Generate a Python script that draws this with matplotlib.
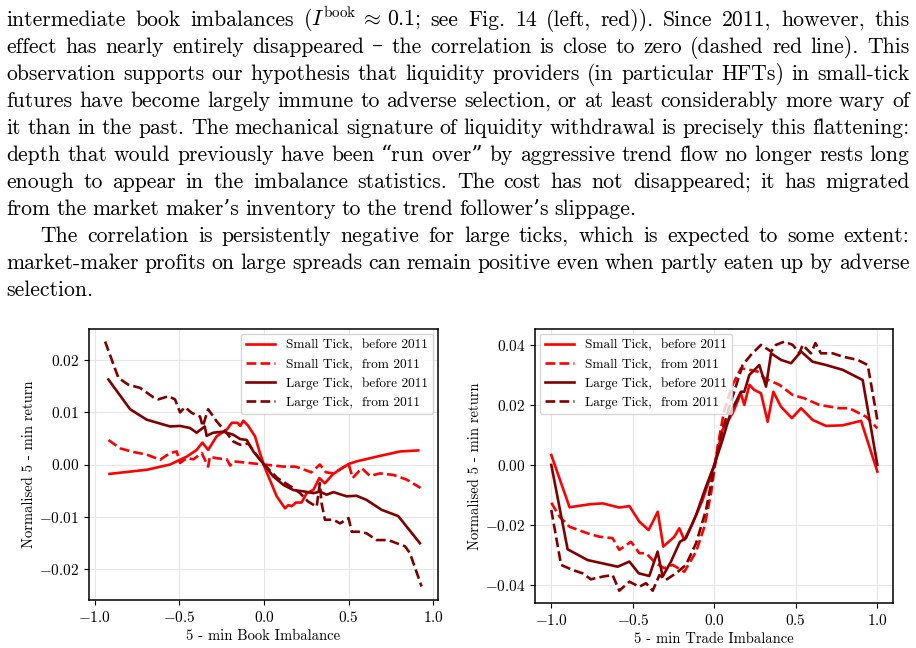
import re
import matplotlib
matplotlib.use("Agg")
import matplotlib.pyplot as plt

plt.rcParams["font.family"] = ["cmr10", "DejaVu Serif"]
plt.rcParams["mathtext.fontset"] = "cm"
plt.rcParams["axes.formatter.use_mathtext"] = True
plt.rcParams["axes.unicode_minus"] = True

# ---- paragraph text above the figure
para_lines = [
    r"intermediate book imbalances ($I^{\rm book} \,\approx\, 0.1$; see Fig. 14 (left, red)).  Since 2011, however, this",
    "effect has nearly entirely disappeared \u2013 the correlation is close to zero (dashed red line).  This",
    "observation supports our hypothesis that liquidity providers (in particular HFTs) in small-tick",
    "futures have become largely immune to adverse selection, or at least considerably more wary of",
    "it than in the past.  The mechanical signature of liquidity withdrawal is precisely this flattening:",
    "depth that would previously have been \u201crun over\u201d by aggressive trend flow no longer rests long",
    "enough to appear in the imbalance statistics.  The cost has not disappeared; it has migrated",
    "from the market maker\u2019s inventory to the trend follower\u2019s slippage.",
    "The correlation is persistently negative for large ticks, which is expected to some extent:",
    "market-maker profits on large spreads can remain positive even when partly eaten up by adverse",
    "selection.",
]
para_justify = [True, True, True, True, True, True, True, False, True, True, False]
para_indent = [0, 0, 0, 0, 0, 0, 0, 0, 1, 0, 0]

# ---- left panel: book imbalance
book_st_pre_x = [-0.913, -0.69, -0.555, -0.457, -0.398, -0.364, -0.33, -0.28, -0.22, -0.19, -0.157, -0.14,
                 -0.122, -0.093, -0.053, -0.024, 0.006, 0.075, 0.124, 0.144, 0.163, 0.189, 0.222, 0.252,
                 0.291, 0.327, 0.36, 0.409, 0.5, 0.547, 0.665, 0.803, 0.911]
book_st_pre_y = [-0.0018, -0.001, 0.0, 0.0015, 0.0028, 0.0042, 0.0028, 0.0054, 0.0067, 0.008, 0.008, 0.0074,
                 0.0084, 0.0074, 0.0054, 0.0022, -0.0007, -0.0061, -0.0084, -0.0078, -0.008, -0.0073, -0.0073,
                 -0.0055, -0.0049, -0.0026, -0.0036, -0.0018, 0.0001, 0.0006, 0.0015, 0.0025, 0.0027]

book_st_post_x = [-0.919, -0.85, -0.772, -0.693, -0.614, -0.555, -0.516, -0.496, -0.457, -0.417, -0.368, -0.33,
                  -0.32, -0.28, -0.22, -0.2, -0.18, -0.122, 0.0, 0.114, 0.183, 0.213, 0.28, 0.33, 0.366, 0.41,
                  0.5, 0.524, 0.577, 0.626, 0.685, 0.764, 0.843, 0.925]
book_st_post_y = [0.0047, 0.0031, 0.0024, 0.0019, 0.0009, 0.0022, 0.0025, 0.0003, 0.0012, 0.001, 0.0022, -0.0004,
                  0.0015, 0.0012, 0.001, -0.0002, 0.0006, 0.0004, 0.0, -0.0004, -0.0004, -0.0007, -0.0015, 0.0,
                  -0.0015, -0.0017, 0.0001, -0.0026, -0.0007, -0.0022, -0.0017, -0.002, -0.0029, -0.0045]

book_lt_pre_x = [-0.919, -0.791, -0.693, -0.555, -0.496, -0.437, -0.398, -0.35, -0.339, -0.3, -0.24, -0.181,
                 -0.142, -0.102, -0.063, 0.0, 0.055, 0.114, 0.173, 0.242, 0.291, 0.33, 0.37, 0.41, 0.488,
                 0.547, 0.606, 0.695, 0.793, 0.921]
book_lt_pre_y = [0.0163, 0.0106, 0.0086, 0.0073, 0.0074, 0.007, 0.0061, 0.0073, 0.0055, 0.0061, 0.0063, 0.0057,
                 0.0049, 0.0047, 0.0025, 0.0, -0.0023, -0.0039, -0.0049, -0.0052, -0.0055, -0.0052, -0.0058,
                 -0.0053, -0.0061, -0.006, -0.0068, -0.0087, -0.0099, -0.0151]

book_lt_post_x = [-0.939, -0.86, -0.801, -0.732, -0.654, -0.624, -0.565, -0.526, -0.496, -0.467, -0.427, -0.378,
                  -0.362, -0.33, -0.28, -0.22, -0.181, -0.142, -0.093, -0.053, 0.0, 0.079, 0.157, 0.213, 0.26,
                  0.311, 0.33, 0.34, 0.36, 0.41, 0.449, 0.5, 0.518, 0.557, 0.606, 0.665, 0.734, 0.833, 0.862,
                  0.931]
book_lt_post_y = [0.0236, 0.0166, 0.0153, 0.0147, 0.0129, 0.0125, 0.0131, 0.0125, 0.01, 0.011, 0.0099, 0.0092,
                  0.0073, 0.0106, 0.0083, 0.006, 0.0044, 0.0038, 0.004, 0.0022, 0.0, -0.0026, -0.0042, -0.0055,
                  -0.0071, -0.0081, -0.0036, -0.0074, -0.0106, -0.0106, -0.0113, -0.0103, -0.0129, -0.0129,
                  -0.0132, -0.0145, -0.0145, -0.0157, -0.017, -0.0234]

# ---- right panel: trade imbalance
trade_st_pre_x = [-1.0, -0.888, -0.765, -0.685, -0.583, -0.521, -0.46, -0.403, -0.347, -0.313, -0.245, -0.215,
                  -0.184, -0.133, -0.072, 0.0, 0.05, 0.112, 0.163, 0.184, 0.215, 0.245, 0.286, 0.327, 0.362,
                  0.409, 0.476, 0.532, 0.603, 0.685, 0.787, 0.9, 1.0]
trade_st_pre_y = [0.0033, -0.0141, -0.0131, -0.0128, -0.0142, -0.0137, -0.0189, -0.0217, -0.0156, -0.0272,
                  -0.0239, -0.0211, -0.025, -0.0194, -0.0117, 0.0, 0.0117, 0.0172, 0.0239, 0.02, 0.0267, 0.025,
                  0.0239, 0.0144, 0.0244, 0.0194, 0.0156, 0.0189, 0.015, 0.013, 0.0132, 0.0147, -0.0022]

trade_st_post_x = [-1.0, -0.95, -0.888, -0.777, -0.706, -0.624, -0.583, -0.511, -0.46, -0.419, -0.358, -0.307,
                   -0.256, -0.184, -0.112, -0.061, -0.02, 0.02, 0.061, 0.112, 0.163, 0.215, 0.266, 0.307, 0.399,
                   0.481, 0.552, 0.644, 0.767, 0.828, 0.93, 1.0]
trade_st_post_y = [-0.0126, -0.0172, -0.0206, -0.0228, -0.0239, -0.0244, -0.0283, -0.0256, -0.0294, -0.0294,
                   -0.0328, -0.0344, -0.0333, -0.0356, -0.0289, -0.0206, -0.0094, 0.0061, 0.0183, 0.0267, 0.0322,
                   0.0317, 0.0311, 0.0289, 0.0267, 0.0233, 0.0222, 0.02, 0.0189, 0.0189, 0.0161, 0.0122]

trade_lt_pre_x = [-1.0, -0.9, -0.777, -0.685, -0.593, -0.521, -0.464, -0.399, -0.348, -0.317, -0.266, -0.211,
                  -0.174, -0.112, -0.051, 0.0, 0.05, 0.102, 0.133, 0.163, 0.184, 0.215, 0.276, 0.317, 0.348,
                  0.409, 0.471, 0.532, 0.603, 0.685, 0.787, 0.91, 1.0]
trade_lt_pre_y = [0.0, -0.0281, -0.0317, -0.0328, -0.0339, -0.0322, -0.0361, -0.037, -0.0289, -0.0372, -0.0322,
                  -0.0256, -0.0244, -0.0167, -0.0072, 0.0, 0.0083, 0.0178, 0.0211, 0.0244, 0.0244, 0.03, 0.0333,
                  0.0261, 0.0372, 0.035, 0.0339, 0.0378, 0.0344, 0.0333, 0.0317, 0.0283, 0.0]

trade_lt_post_x = [-1.0, -0.94, -0.869, -0.808, -0.757, -0.685, -0.624, -0.583, -0.521, -0.46, -0.419, -0.378,
                   -0.337, -0.297, -0.235, -0.174, -0.112, -0.051, 0.0, 0.05, 0.102, 0.174, 0.225, 0.286, 0.348,
                   0.378, 0.43, 0.481, 0.522, 0.542, 0.593, 0.62, 0.654, 0.726, 0.787, 0.879, 0.941, 1.0]
trade_lt_post_y = [-0.015, -0.0333, -0.035, -0.0361, -0.0381, -0.0372, -0.0367, -0.0419, -0.0389, -0.0406,
                   -0.0394, -0.0419, -0.0367, -0.0383, -0.0361, -0.0333, -0.0261, -0.015, -0.0006, 0.0117, 0.0211,
                   0.0333, 0.0367, 0.04, 0.0378, 0.04, 0.0411, 0.04, 0.0372, 0.04, 0.0372, 0.0406, 0.0372, 0.0372,
                   0.0361, 0.035, 0.0333, 0.015]

labels = ["Small Tick,  before 2011", "Small Tick,  from 2011",
          "Large Tick,  before 2011", "Large Tick,  from 2011"]

RED = "#ff0000"
DARK = "#800000"
W, H = 916, 648


def draw_paragraph(fig):
    renderer = fig.canvas.get_renderer()
    left, right = 6.5, 909.5
    base0, step = 26.0, 27.0
    for i, line in enumerate(para_lines):
        words = re.findall(r"\S*\$[^$]*\$\S*|\S+", line)
        x0 = left + 34.0 * para_indent[i]
        y = 1 - (base0 + step * i) / H
        texts, widths = [], []
        for w in words:
            t = fig.text(0, y, w, fontsize=15.6, va="baseline", ha="left")
            texts.append(t)
            widths.append(t.get_window_extent(renderer).width)
        if para_justify[i] and len(words) > 1:
            gap = (right - x0 - sum(widths)) / (len(words) - 1)
        else:
            gap = 5.8
        x = x0
        for t, wd in zip(texts, widths):
            t.set_x(x / W)
            x += wd + gap


def style_axes(ax, xlabel):
    ax.grid(True, color="#e6e6e6", linewidth=0.8)
    ax.set_axisbelow(True)
    for s in ax.spines.values():
        s.set_linewidth(1.1)
    ax.tick_params(labelsize=11, length=3.5, width=0.8)
    ax.set_xlabel(xlabel, fontsize=10.5, labelpad=3)
    ax.set_ylabel("Normalised 5 - min return", fontsize=10.5, labelpad=2)


def main():
    fig = plt.figure(figsize=(W / 100, H / 100), dpi=100)
    draw_paragraph(fig)

    ax1 = fig.add_axes([89 / W, 1 - 600 / H, 349 / W, 271 / H])
    ax1.plot(book_st_pre_x, book_st_pre_y, color=RED, lw=1.9, label=labels[0])
    ax1.plot(book_st_post_x, book_st_post_y, color=RED, lw=1.9, ls="--", label=labels[1])
    ax1.plot(book_lt_pre_x, book_lt_pre_y, color=DARK, lw=1.9, label=labels[2])
    ax1.plot(book_lt_post_x, book_lt_post_y, color=DARK, lw=1.9, ls="--", label=labels[3])
    ax1.set_xlim(-1.034, 1.028)
    ax1.set_ylim(-0.026, 0.026)
    ax1.set_xticks([-1.0, -0.5, 0.0, 0.5, 1.0])
    ax1.set_yticks([-0.02, -0.01, 0.0, 0.01, 0.02])
    style_axes(ax1, "5 - min Book Imbalance")
    ax1.legend(loc="upper right", fontsize=9.6, handlelength=2.2, borderaxespad=0.35,
               labelspacing=0.5, framealpha=0.8)

    ax2 = fig.add_axes([535 / W, 1 - 603 / H, 358 / W, 274 / H])
    ax2.plot(trade_st_pre_x, trade_st_pre_y, color=RED, lw=1.9, label=labels[0])
    ax2.plot(trade_st_post_x, trade_st_post_y, color=RED, lw=1.9, ls="--", label=labels[1])
    ax2.plot(trade_lt_pre_x, trade_lt_pre_y, color=DARK, lw=1.9, label=labels[2])
    ax2.plot(trade_lt_post_x, trade_lt_post_y, color=DARK, lw=1.9, ls="--", label=labels[3])
    ax2.set_xlim(-1.1, 1.096)
    ax2.set_ylim(-0.046, 0.0453)
    ax2.set_xticks([-1.0, -0.5, 0.0, 0.5, 1.0])
    ax2.set_yticks([-0.04, -0.02, 0.0, 0.02, 0.04])
    style_axes(ax2, "5 - min Trade Imbalance")
    ax2.legend(loc="upper left", fontsize=9.6, handlelength=2.2, borderaxespad=0.35,
               labelspacing=0.5, framealpha=0.8)

    fig.savefig("out.png", dpi=100)


if __name__ == "__main__":
    main()
